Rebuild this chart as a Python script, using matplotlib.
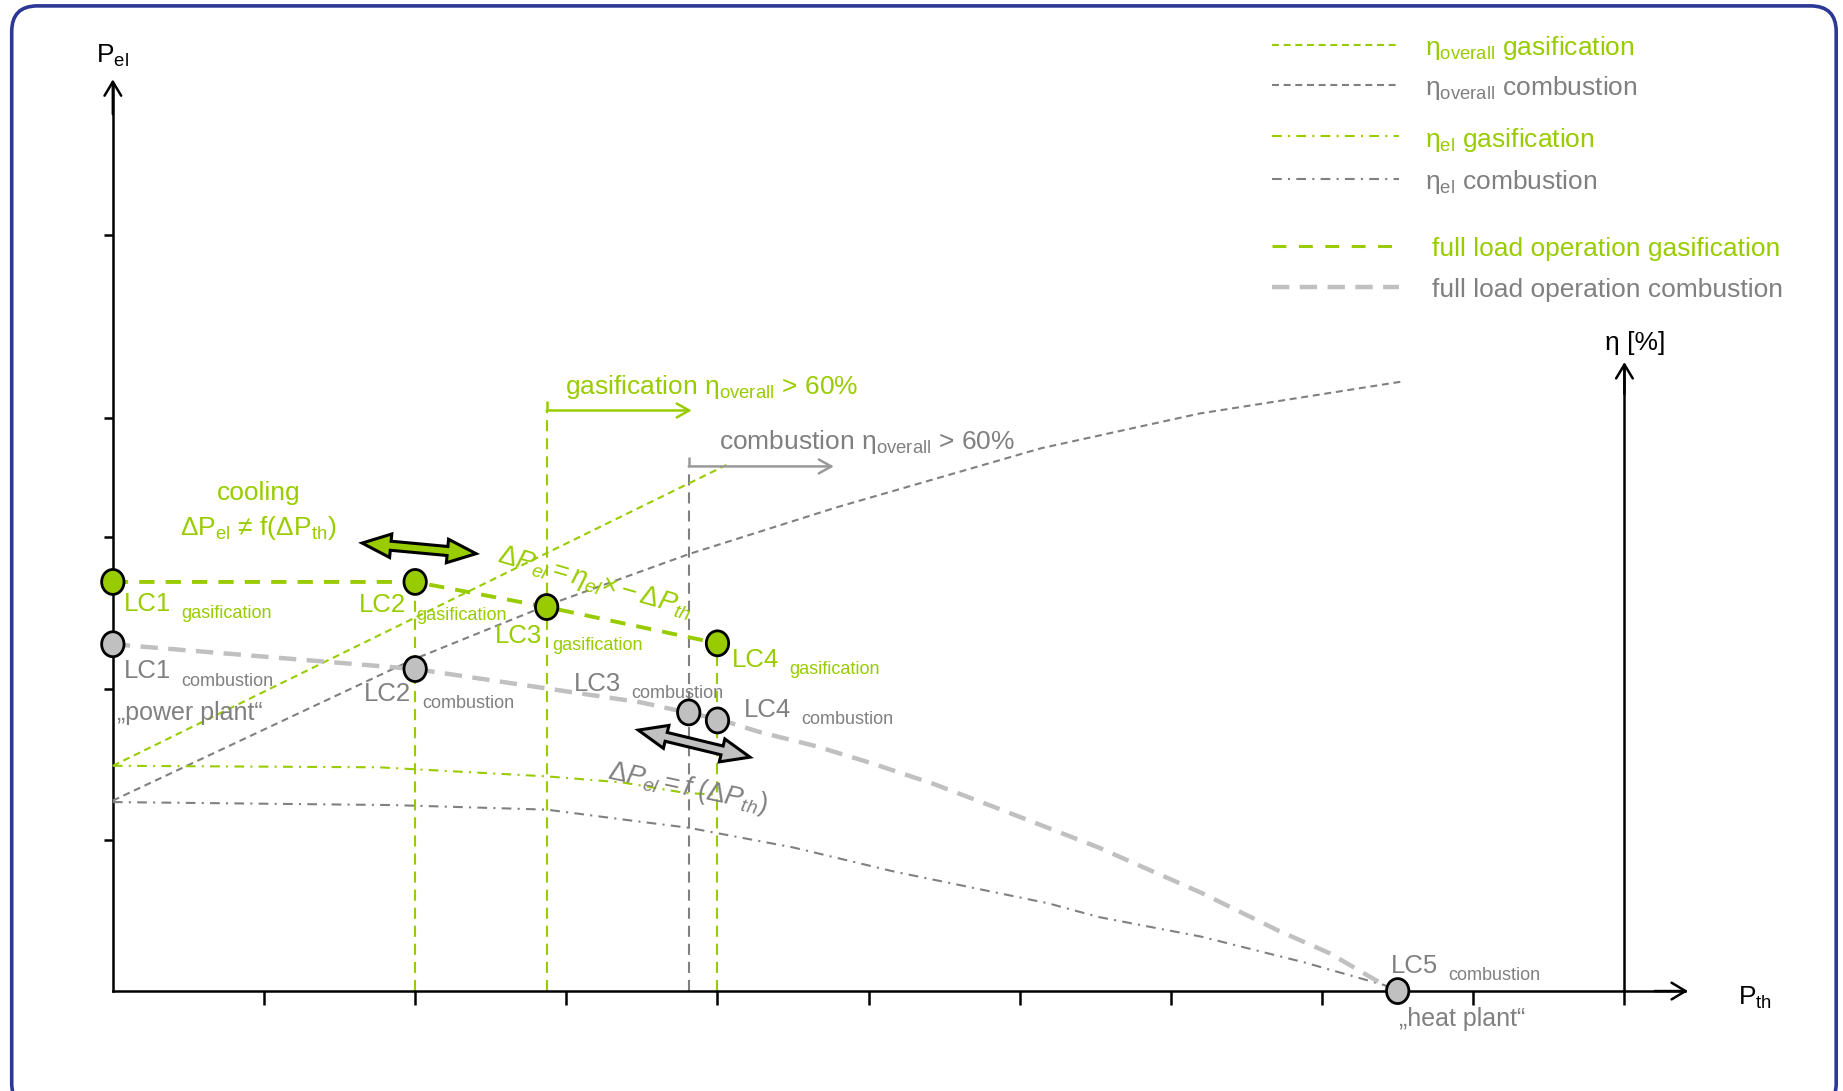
import numpy as np
import matplotlib
matplotlib.use('Agg')
import matplotlib.pyplot as plt
from matplotlib.patches import Ellipse, Polygon, FancyBboxPatch

GREEN = '#99CC00'
GRAY = '#808080'
LIGHT = '#C0C0C0'
ARROW_GRAY = '#9A9A9A'
BLUE = '#2B3896'

plt.rcParams['font.family'] = ['Liberation Sans', 'DejaVu Sans']
plt.rcParams['mathtext.fontset'] = 'custom'
plt.rcParams['mathtext.rm'] = 'Liberation Sans'
plt.rcParams['mathtext.it'] = 'Liberation Sans:italic'
plt.rcParams['mathtext.bf'] = 'Liberation Sans:bold'
plt.rcParams['lines.scale_dashes'] = False

# axis ticks (schematic units)
p_th_ticks = [1, 2, 3, 4, 5, 6, 7, 8, 9, 10]
p_el_ticks = [1, 2, 3, 3.79, 5]

# efficiency curves
eta_overall_gas_x = [0.0, 4.06]
eta_overall_gas_y = [1.49, 3.48]
eta_overall_comb_x = [0.0, 1.98, 2.87, 3.81, 4.79, 6.14, 7.19, 8.52]
eta_overall_comb_y = [1.26, 2.19, 2.55, 2.89, 3.20, 3.59, 3.82, 4.03]
eta_el_gas_x = [0.0, 1.76, 2.87, 3.37, 3.79, 3.98]
eta_el_gas_y = [1.49, 1.48, 1.42, 1.38, 1.31, 1.30]
eta_el_comb_x = [0.0, 1.86, 2.87, 3.49, 3.81, 4.50, 5.17, 5.85, 6.19, 6.52, 7.20, 7.88, 8.41, 8.49]
eta_el_comb_y = [1.25, 1.23, 1.20, 1.12, 1.08, 0.95, 0.79, 0.65, 0.58, 0.49, 0.36, 0.19, 0.04, 0.0]

# full load operation
full_comb_x = [0.0, 2.0, 3.49, 3.81, 4.0, 4.29, 4.65, 5.01, 5.43, 5.85, 6.52, 7.20, 7.71, 8.05, 8.41, 8.49]
full_comb_y = [2.294, 2.13, 1.91, 1.84, 1.80, 1.71, 1.62, 1.51, 1.37, 1.21, 0.95, 0.65, 0.40, 0.25, 0.04, 0.0]

# load cases
lc_gas_x = [0.0, 2.0, 2.87, 4.0]
lc_gas_y = [2.706, 2.706, 2.54, 2.30]
lc_comb_x = [0.0, 2.0, 3.81, 4.0, 8.50]
lc_comb_y = [2.294, 2.13, 1.843, 1.79, 0.0]
lc_gas_names = ['LC1', 'LC2', 'LC3', 'LC4']
lc_comb_names = ['LC1', 'LC2', 'LC3', 'LC4', 'LC5']
lc_gas_text_x = [0.07, 1.625, 2.527, 4.098]
lc_gas_text_y = [2.512, 2.504, 2.302, 2.146]
lc_comb_text_x = [0.07, 1.664, 3.048, 4.176, 8.453]
lc_comb_text_y = [2.068, 1.921, 1.983, 1.812, 0.117]

# 60 % thresholds
gas_limit_x = 2.87
gas_limit_y = 3.84
gas_limit_end = 3.83
comb_limit_x = 3.81
comb_limit_y = 3.47
comb_limit_end = 4.77


def block_arrow(ax, start, end, face, head_len=0.19, head_w=0.078, shaft_w=0.03):
    p0 = np.array(start, dtype=float)
    p1 = np.array(end, dtype=float)
    d = (p1 - p0) / np.hypot(*(p1 - p0))
    n = np.array([-d[1], d[0]])
    pts = [p0,
           p0 + d * head_len + n * head_w, p0 + d * head_len + n * shaft_w,
           p1 - d * head_len + n * shaft_w, p1 - d * head_len + n * head_w,
           p1,
           p1 - d * head_len - n * head_w, p1 - d * head_len - n * shaft_w,
           p0 + d * head_len - n * shaft_w, p0 + d * head_len - n * head_w]
    ax.add_patch(Polygon(pts, closed=True, fc=face, ec='black', lw=2.2,
                         joinstyle='miter', zorder=6))


fig = plt.figure(figsize=(18.43, 10.91), dpi=100)
ax = fig.add_axes([0, 0, 1, 1])
ax.set_xlim(-0.7465, 11.446)
ax.set_ylim(-0.661, 6.555)

ax.spines['top'].set_visible(False)
ax.spines['left'].set_position(('data', 0))
ax.spines['left'].set_bounds(0, 6.0)
ax.spines['bottom'].set_position(('data', 0))
ax.spines['bottom'].set_bounds(0, 10.4)
ax.spines['right'].set_position(('data', 10))
ax.spines['right'].set_bounds(0, 4.14)
for sp in ax.spines.values():
    sp.set_linewidth(1.8)
ax.set_xticks(p_th_ticks)
ax.set_yticks(p_el_ticks)
ax.tick_params(axis='x', direction='out', length=10, width=1.8, labelbottom=False)
ax.tick_params(axis='y', direction='out', length=6.5, width=1.8, labelleft=False)

head = dict(arrowstyle='->,head_length=0.5,head_width=0.3', lw=1.8, color='black',
            shrinkA=0, shrinkB=0, mutation_scale=20)
ax.annotate('', xy=(0, 6.03), xytext=(0, 5.8), arrowprops=head)
ax.annotate('', xy=(10.42, 0), xytext=(10.2, 0), arrowprops=head)
ax.annotate('', xy=(10, 4.16), xytext=(10, 3.95), arrowprops=head)

# frame
ax.add_patch(FancyBboxPatch((-0.669, -0.78), 12.07, 7.296,
                            boxstyle='round,pad=0,rounding_size=0.17',
                            ec=BLUE, fc='none', lw=2.6, clip_on=False, zorder=1))

short_dash = (0, (5, 3.4))
dash_dot = (0, (7, 4.5, 1.5, 4.5))
vert_dash = (0, (8, 5))

ax.plot(eta_overall_gas_x, eta_overall_gas_y, color=GREEN, lw=1.5, ls=short_dash, zorder=3)
ax.plot(eta_overall_comb_x, eta_overall_comb_y, color=GRAY, lw=1.5, ls=short_dash, zorder=3)
ax.plot(eta_el_gas_x, eta_el_gas_y, color=GREEN, lw=1.5, ls=dash_dot, zorder=3)
ax.plot(eta_el_comb_x, eta_el_comb_y, color=GRAY, lw=1.5, ls=dash_dot, zorder=3)
ax.plot(full_comb_x, full_comb_y, color=LIGHT, lw=3.2, ls=(0, (12.5, 7.5)), zorder=3)
ax.plot(lc_gas_x, lc_gas_y, color=GREEN, lw=2.8, ls=(0, (11, 8)), zorder=3)

# vertical guide lines
ax.vlines(lc_gas_x[1], 0, lc_gas_y[1], color=GREEN, lw=1.5, ls=vert_dash, zorder=2)
ax.vlines(lc_gas_x[3], 0, lc_gas_y[3], color=GREEN, lw=1.5, ls=vert_dash, zorder=2)
ax.vlines(gas_limit_x, 0, gas_limit_y, color=GREEN, lw=1.5, ls=vert_dash, zorder=2)
ax.vlines(comb_limit_x, 0, comb_limit_y, color=GRAY, lw=1.5, ls=vert_dash, zorder=2)
ax.vlines(gas_limit_x, gas_limit_y, gas_limit_y + 0.06, color=GREEN, lw=1.8, zorder=2)
ax.vlines(comb_limit_x, comb_limit_y, comb_limit_y + 0.06, color=ARROW_GRAY, lw=1.8, zorder=2)

lim_head = dict(arrowstyle='->,head_length=0.45,head_width=0.25', lw=1.8,
                shrinkA=0, shrinkB=0, mutation_scale=20)
ax.annotate('', xy=(gas_limit_end, gas_limit_y), xytext=(gas_limit_x, gas_limit_y),
            arrowprops=dict(lim_head, color=GREEN))
ax.annotate('', xy=(comb_limit_end, comb_limit_y), xytext=(comb_limit_x, comb_limit_y),
            arrowprops=dict(lim_head, color=ARROW_GRAY))

# load case markers
for x, y in zip(lc_gas_x, lc_gas_y):
    ax.add_patch(Ellipse((x, y), 0.148, 0.165, fc=GREEN, ec='black', lw=2.0, zorder=5))
for x, y in zip(lc_comb_x, lc_comb_y):
    ax.add_patch(Ellipse((x, y), 0.148, 0.165, fc=LIGHT, ec='black', lw=2.0, zorder=5))

for name, x, y in zip(lc_gas_names, lc_gas_text_x, lc_gas_text_y):
    ax.text(x, y, name, color=GREEN, fontsize=18.5, zorder=7)
    ax.text(x + 0.38, y - 0.047, 'gasification', color=GREEN, fontsize=13, zorder=7)
for name, x, y in zip(lc_comb_names, lc_comb_text_x, lc_comb_text_y):
    ax.text(x, y, name, color=GRAY, fontsize=18.5, zorder=7)
    ax.text(x + 0.38, y - 0.047, 'combustion', color=GRAY, fontsize=13, zorder=7)

ax.text(0.03, 1.79, '\u201epower plant\u201c', color=GRAY, fontsize=18, zorder=7)
ax.text(8.51, -0.233, '\u201eheat plant\u201c', color=GRAY, fontsize=18, zorder=7)

ax.text(0.964, 3.25, 'cooling', color=GREEN, fontsize=19, ha='center')
ax.text(0.964, 3.017, r'$\mathregular{ΔP_{el}\ ≠\ f(ΔP_{th})}$', color=GREEN, fontsize=19, ha='center')

ax.text(2.99, 3.95, r'gasification $\mathregular{η_{overall}}$ > 60%', color=GREEN, fontsize=19)
ax.text(4.01, 3.585, r'combustion $\mathregular{η_{overall}}$ > 60%', color=GRAY, fontsize=19)

ax.text(2.535, 2.84, r'$\mathit{ΔP_{el} = η_{el} × -ΔP_{th}}$', color=GREEN, fontsize=19.5,
        rotation=-16, rotation_mode='anchor', zorder=7)
ax.text(3.266, 1.407, r'$\mathit{ΔP_{el} = f\ (ΔP_{th})}$', color=GRAY, fontsize=19.5,
        rotation=-12, rotation_mode='anchor', zorder=7)

block_arrow(ax, (1.649, 2.963), (2.403, 2.893), GREEN)
block_arrow(ax, (3.476, 1.726), (4.215, 1.547), LIGHT)

ax.text(-0.11, 6.14, r'$\mathregular{P_{el}}$', fontsize=19)
ax.text(10.75, -0.093, r'$\mathregular{P_{th}}$', fontsize=19)
ax.text(9.87, 4.24, 'η [%]', fontsize=19)

# legend
leg_x = [7.667, 8.507]
leg_y = [6.260, 5.995, 5.653, 5.373, 4.930, 4.658]
leg_labels = [r'$\mathregular{η_{overall}}$ gasification', r'$\mathregular{η_{overall}}$ combustion',
              r'$\mathregular{η_{el}}$ gasification', r'$\mathregular{η_{el}}$ combustion',
              'full load operation gasification', 'full load operation combustion']
leg_colors = [GREEN, GRAY, GREEN, GRAY, GREEN, LIGHT]
leg_text_colors = [GREEN, GRAY, GREEN, GRAY, GREEN, GRAY]
leg_styles = [short_dash, short_dash, dash_dot, dash_dot, (0, (10, 9)), (0, (12.5, 7.5))]
leg_widths = [1.5, 1.5, 1.5, 1.5, 2.2, 3.2]
leg_text_x = [8.678, 8.678, 8.678, 8.678, 8.725, 8.725]
for y, lab, c, tc, ls, lw, tx in zip(leg_y, leg_labels, leg_colors, leg_text_colors,
                                      leg_styles, leg_widths, leg_text_x):
    ax.plot(leg_x, [y, y], color=c, ls=ls, lw=lw)
    ax.text(tx, y - 0.07, lab, color=tc, fontsize=19)

fig.savefig('out.png', dpi=100)
